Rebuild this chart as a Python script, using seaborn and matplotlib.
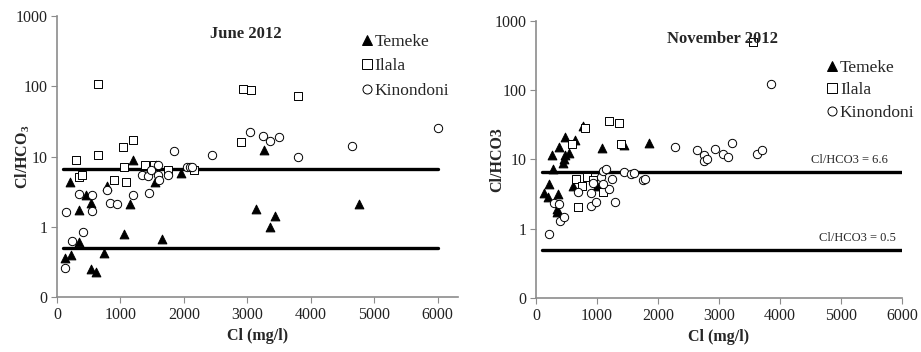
import numpy as np
import pandas as pd
import seaborn as sns
import matplotlib.pyplot as plt
from matplotlib.lines import Line2D

# === data (Cl in mg/l, Cl/HCO3 ratio) ===
jun_temeke_cl = [121, 226, 200, 346, 346, 451, 541, 541, 619, 740, 787, 1050, 1144, 1197,
                 1407, 1543, 1554, 1648, 1948, 3139, 3255, 3349, 3428, 4756]
jun_temeke_r = [0.36, 0.39, 4.3, 0.6, 1.75, 2.86, 2.2, 0.25, 0.23, 0.43, 3.76, 0.79, 2.13, 8.8,
                7.4, 4.3, 7.5, 0.67, 5.8, 1.79, 12.2, 0.98, 1.43, 2.13]
jun_ilala_cl = [294, 346, 399, 646, 651, 898, 1039, 1050, 1092, 1197, 1391, 1522, 1748,
                2157, 2898, 2929, 3050, 3801]
jun_ilala_r = [9.0, 5.05, 5.4, 108, 10.5, 4.57, 13.5, 7.1, 4.38, 17.4, 7.5, 7.5, 6.5,
               6.5, 16.3, 91.6, 89.6, 73.6]
jun_kino_cl = [131, 147, 241, 341, 410, 551, 546, 793, 840, 945, 1192, 1339, 1433, 1449,
               1486, 1596, 1596, 1606, 1748, 1843, 2047, 2089, 2126, 2441, 3045, 3244,
               3349, 3496, 3801, 4646, 6000]
jun_kino_r = [0.26, 1.62, 0.62, 2.95, 0.85, 2.8, 1.69, 3.3, 2.17, 2.13, 2.86, 5.4, 5.2, 3.0,
              6.5, 7.5, 5.5, 4.57, 5.5, 11.9, 7.1, 7.1, 7.1, 10.4, 22.1, 19.8,
              16.4, 19.2, 9.8, 14.0, 25.8]

nov_temeke_cl = [131, 202, 213, 257, 284, 356, 339, 350, 377, 449, 460, 476, 476, 542,
                 646, 613, 777, 996, 1078, 1450, 1860]
nov_temeke_r = [3.3, 2.9, 4.4, 11.7, 7.4, 3.2, 1.96, 1.76, 15.2, 8.8, 10.3, 21.2, 11.8, 12.6,
                19.0, 4.2, 30.6, 4.2, 14.7, 16.1, 17.4]
nov_ilala_cl = [596, 656, 695, 810, 831, 760, 941, 1105, 1203, 1356, 1400, 3555]
nov_ilala_r = [17, 5.2, 2.03, 28.3, 5.6, 4.2, 5.1, 3.4, 35.7, 34.2, 16.8, 492]
nov_kino_cl = [219, 301, 377, 394, 465, 695, 903, 903, 979, 930, 1061, 1094, 1143, 1198,
               1242, 1105, 1296, 1450, 1559, 1608, 1750, 1788, 2286, 2647, 2746, 2757,
               2800, 2937, 3058, 3145, 3210, 3615, 3708, 3855]
nov_kino_r = [0.83, 2.34, 2.3, 1.28, 1.5, 3.35, 3.3, 2.15, 2.4, 4.6, 5.5, 6.9, 7.2, 3.8,
              5.2, 4.5, 2.45, 6.5, 6.2, 6.3, 5.0, 5.2, 14.9, 13.6, 11.6, 9.5,
              10.3, 14.3, 12.2, 11.0, 17.4, 12.2, 13.9, 122]

sites = ["Temeke", "Ilala", "Kinondoni"]
ref_ratios = [6.6, 0.5]
line_x = [100, 6000]
y_ticks = [0.1, 1, 10, 100, 1000]
y_ticklabels = ["0", "1", "10", "100", "1000"]
x_ticks = [0, 1000, 2000, 3000, 4000, 5000, 6000]


def make_df(parts):
    frames = []
    for site, (cl, r) in zip(sites, parts):
        frames.append(pd.DataFrame({"Cl": cl, "Ratio": r, "Site": site}))
    return pd.concat(frames, ignore_index=True)


jun = make_df([(jun_temeke_cl, jun_temeke_r), (jun_ilala_cl, jun_ilala_r),
               (jun_kino_cl, jun_kino_r)])
nov = make_df([(nov_temeke_cl, nov_temeke_r), (nov_ilala_cl, nov_ilala_r),
               (nov_kino_cl, nov_kino_r)])

style = {
    "Temeke": dict(marker="^", facecolor="black"),
    "Ilala": dict(marker="s", facecolor="white"),
    "Kinondoni": dict(marker="o", facecolor="white"),
}

sns.set_theme(style="white")
plt.rcParams["font.family"] = ["Liberation Serif", "DejaVu Serif"]
plt.rcParams["mathtext.fontset"] = "custom"
plt.rcParams["mathtext.rm"] = "Liberation Serif"
plt.rcParams["mathtext.bf"] = "Liberation Serif:bold"

fig = plt.figure(figsize=(9.21, 3.52), dpi=100)
ax1 = fig.add_axes([0.0619, 0.1562, 0.4355, 0.7983])
ax2 = fig.add_axes([0.5820, 0.1534, 0.3974, 0.7870])

grey = "#8c8c8c"


def draw(ax, df, title, ylabel, xmax, title_x, ylab_x):
    for ratio in ref_ratios:
        sns.lineplot(x=line_x, y=[ratio, ratio], ax=ax, color="black", lw=2.4, zorder=1)
    for site in sites:
        sub = df[df["Site"] == site]
        sns.scatterplot(data=sub, x="Cl", y="Ratio", ax=ax, marker=style[site]["marker"],
                        facecolor=style[site]["facecolor"], edgecolor="black",
                        linewidth=0.7, s=40 if site == "Temeke" else 36, zorder=3)
    ax.set_yscale("log")
    ax.set_ylim(0.1, 1000)
    ax.set_xlim(0, xmax)
    ax.set_yticks(y_ticks)
    ax.set_yticklabels(y_ticklabels)
    ax.minorticks_off()
    ax.set_xticks(x_ticks)
    ax.tick_params(axis="both", direction="out", length=4, width=0.8, color=grey,
                   labelsize=11.5, pad=3, left=True, bottom=True, labelcolor="#222222")
    for s in ["top", "right"]:
        ax.spines[s].set_visible(False)
    for s in ["left", "bottom"]:
        ax.spines[s].set_color(grey)
        ax.spines[s].set_linewidth(1.2)
    ax.set_xlabel("Cl (mg/l)", fontsize=11.5, fontweight="bold", labelpad=4)
    ax.set_ylabel(ylabel, fontsize=11.5, fontweight="bold")
    ax.yaxis.set_label_coords(ylab_x, 0.5)
    ax.text(title_x, 0.965, title, transform=ax.transAxes, ha="center",
            va="top", fontsize=12, fontweight="bold")


draw(ax1, jun, "June 2012", r"$\mathbf{Cl/HCO_3}$", 6320, 0.47, -0.063)
draw(ax2, nov, "November 2012", "Cl/HCO3", 6000, 0.51, -0.085)

ax2.text(5770, 8.1, "Cl/HCO3 = 6.6", ha="right", va="bottom", fontsize=9)
ax2.text(5900, 0.61, "Cl/HCO3 = 0.5", ha="right", va="bottom", fontsize=9)


def legend(ax, anchor, spacing):
    handles = [Line2D([], [], ls="none", marker=style[s]["marker"],
                      markerfacecolor=style[s]["facecolor"], markeredgecolor="black",
                      markeredgewidth=0.7, markersize=6.5, label=s) for s in sites]
    ax.legend(handles=handles, loc="upper right", bbox_to_anchor=anchor,
              bbox_transform=fig.transFigure, frameon=False, fontsize=12.5,
              handlelength=0.6, handletextpad=0.15, labelspacing=spacing,
              borderpad=0, borderaxespad=0)


legend(ax1, (0.488, 0.905), 0.5)
legend(ax2, (0.993, 0.83), 0.36)

fig.savefig("out.png", dpi=100)
